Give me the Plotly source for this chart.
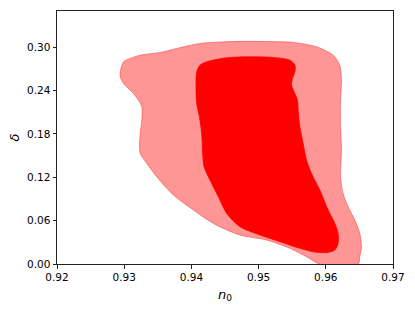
import plotly.graph_objects as go

# 95% contour boundary (n0, delta)
outer_n0 = [0.92941, 0.92990, 0.93089, 0.93238, 0.93535, 0.93782, 0.94129, 0.94624, 0.95119,
            0.95515, 0.95861, 0.96109, 0.96208, 0.96233, 0.96218, 0.96218, 0.96233, 0.96218,
            0.96257, 0.96332, 0.96431, 0.96505, 0.96530, 0.96505, 0.96480, 0.95911, 0.95713,
            0.95465, 0.95119, 0.94723, 0.94327, 0.94030, 0.93733, 0.93485, 0.93337, 0.93238,
            0.93228, 0.93238, 0.93262, 0.93262, 0.93213, 0.93114, 0.92990, 0.92941]
outer_delta = [0.2659, 0.2797, 0.2843, 0.2889, 0.2926, 0.2982, 0.3051, 0.3078, 0.3078,
               0.3065, 0.3005, 0.2889, 0.2751, 0.2544, 0.2267, 0.1899, 0.1576, 0.1207,
               0.0977, 0.0793, 0.0608, 0.0424, 0.0240, 0.0101, 0.0, 0.0, 0.0101,
               0.0217, 0.0332, 0.0401, 0.0562, 0.0747, 0.0954, 0.1207, 0.1392, 0.1530,
               0.1622, 0.1806, 0.1991, 0.2175, 0.2267, 0.2382, 0.2498, 0.2590]

# 68% contour boundary
inner_n0 = [0.94079, 0.94129, 0.94228, 0.94525, 0.94871, 0.95218, 0.95465, 0.95540, 0.95540,
            0.95505, 0.95490, 0.95540, 0.95579, 0.95589, 0.95614, 0.95663, 0.95713, 0.95787,
            0.95911, 0.96035, 0.96134, 0.96183, 0.96183, 0.96134, 0.96035, 0.95861, 0.95614,
            0.95317, 0.95020, 0.94723, 0.94525, 0.94401, 0.94277, 0.94188, 0.94168, 0.94153,
            0.94119, 0.94079, 0.94069]
inner_delta = [0.2659, 0.2751, 0.2797, 0.2853, 0.2866, 0.2857, 0.2820, 0.2751, 0.2659,
               0.2567, 0.2475, 0.2359, 0.2267, 0.2129, 0.1899, 0.1668, 0.1438, 0.1253,
               0.1023, 0.0747, 0.0562, 0.0424, 0.0286, 0.0194, 0.0161, 0.0161, 0.0217,
               0.0309, 0.0401, 0.0516, 0.0700, 0.0931, 0.1161, 0.1346, 0.1530, 0.1806,
               0.2037, 0.2221, 0.2452]

x_ticks = [0.92, 0.93, 0.94, 0.95, 0.96, 0.97]
y_ticks = [0.00, 0.06, 0.12, 0.18, 0.24, 0.30]

fig = go.Figure()
fig.add_trace(go.Scatter(
    x=outer_n0 + [outer_n0[0]], y=outer_delta + [outer_delta[0]],
    mode="lines", fill="toself", fillcolor="rgb(255,150,150)",
    line=dict(color="rgba(255,60,60,0.7)", width=0.8, shape="spline", smoothing=0.8),
    hoverinfo="skip", showlegend=False))
fig.add_trace(go.Scatter(
    x=inner_n0 + [inner_n0[0]], y=inner_delta + [inner_delta[0]],
    mode="lines", fill="toself", fillcolor="rgb(255,0,0)",
    line=dict(color="rgb(255,0,0)", width=0.8, shape="spline", smoothing=0.8),
    hoverinfo="skip", showlegend=False))

axis_common = dict(showline=True, linecolor="#222", linewidth=1, mirror=True,
                   ticks="outside", ticklen=3.5, tickwidth=0.8, tickcolor="#222",
                   showgrid=False, zeroline=False, automargin=False,
                   tickfont=dict(family="DejaVu Sans", size=10.5, color="black"))

fig.update_layout(
    width=415, height=311,
    margin=dict(l=57, r=22, t=11, b=47),
    paper_bgcolor="white", plot_bgcolor="white",
    xaxis=dict(range=[0.92, 0.97], tickvals=x_ticks,
               ticktext=[f"{v:.2f}" for v in x_ticks],
               title=dict(text="<i>n</i><sub>0</sub>", standoff=7,
                          font=dict(family="DejaVu Sans", size=13, color="black")),
               **axis_common),
    yaxis=dict(range=[0.0, 0.35], tickvals=y_ticks,
               ticktext=[f"{v:.2f}" for v in y_ticks],
               title=dict(text="<i>δ</i>", standoff=4,
                          font=dict(family="DejaVu Sans", size=13, color="black")),
               **axis_common),
)

fig.write_html("out.html",
               config={"displayModeBar": False},
               post_script="document.body.style.margin='0';document.body.style.padding='0';")
